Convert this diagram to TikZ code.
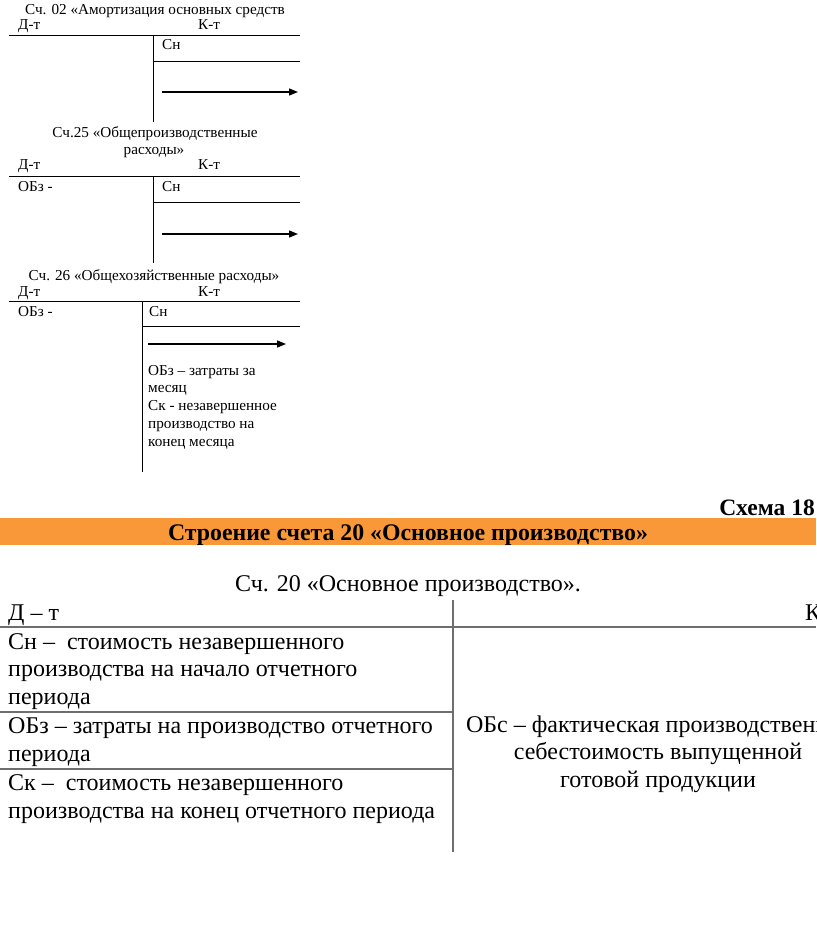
\documentclass[tikz,border=0pt]{standalone}
\usepackage{fontspec}
\setmainfont{Liberation Serif}
\usetikzlibrary{positioning,arrows.meta}
\definecolor{schemeorange}{RGB}{248,152,56}
\definecolor{rulegray}{RGB}{110,110,110}

\begin{document}
\begin{tikzpicture}[x=1pt, y=-1pt, inner sep=0pt,
    every node/.style={font=\fontsize{15.2}{17.7}\selectfont}]
  \tikzset{
    acctitle/.style={anchor=base},
    acclabel/.style={anchor=base west},
    tline/.style={line width=0.9pt},
    flow/.style={line width=1.3pt, -{Triangle[length=9pt, width=7pt]}},
    bigtext/.style={font=\fontsize{24}{27.5}\selectfont, align=left, anchor=base west},
    cellrule/.style={rulegray, line width=1.3pt}
  }
  \useasboundingbox (0,0) rectangle (816,925);
  \clip (0,0) rectangle (816,925);

  % --- ACCOUNT 02 ---
  \node[acctitle] (t02) at (155,15) {Сч. 02 «Амортизация основных средств};
  \node[acclabel] (d02) at (18,30) {Д-т};
  \node[acclabel] (k02) at (198,30) {К-т};
  \node[acclabel] (s02) at (162,50) {Сн};
  \coordinate (h02a) at (9,35);   \coordinate (h02b) at (300,35);
  \coordinate (v02a) at (153,35); \coordinate (v02b) at (153,122);
  \coordinate (m02a) at (153,61); \coordinate (m02b) at (300,61);
  \coordinate (f02a) at (162,92); \coordinate (f02b) at (298,92);
  \draw[tline] (h02a) -- (h02b);
  \draw[tline] (v02a) -- (v02b);
  \draw[tline] (m02a) -- (m02b);
  \draw[flow] (f02a) -- (f02b);

  % --- ACCOUNT 25 ---
  \node[acctitle] (t25a) at (155,138) {Сч.25 «Общепроизводственные};
  \node[acctitle] (t25b) at (154,155) {расходы»};
  \node[acclabel] (d25) at (18,170) {Д-т};
  \node[acclabel] (k25) at (198,170) {К-т};
  \node[acclabel] (o25) at (18,192) {ОБз -};
  \node[acclabel] (s25) at (162,192) {Сн};
  \coordinate (h25a) at (9,176);   \coordinate (h25b) at (300,176);
  \coordinate (v25a) at (153,176); \coordinate (v25b) at (153,263);
  \coordinate (m25a) at (153,202); \coordinate (m25b) at (300,202);
  \coordinate (f25a) at (162,234); \coordinate (f25b) at (298,234);
  \draw[tline] (h25a) -- (h25b);
  \draw[tline] (v25a) -- (v25b);
  \draw[tline] (m25a) -- (m25b);
  \draw[flow] (f25a) -- (f25b);

  % --- ACCOUNT 26 ---
  \node[acctitle] (t26) at (154,280) {Сч. 26 «Общехозяйственные расходы»};
  \node[acclabel] (d26) at (18,296) {Д-т};
  \node[acclabel] (k26) at (198,296) {К-т};
  \node[acclabel] (o26) at (18,316) {ОБз -};
  \node[acclabel] (s26) at (149,316) {Сн};
  \coordinate (h26a) at (9,301);   \coordinate (h26b) at (300,301);
  \coordinate (v26a) at (142,301); \coordinate (v26b) at (142,472);
  \coordinate (m26a) at (142,326); \coordinate (m26b) at (300,326);
  \coordinate (f26a) at (148,344); \coordinate (f26b) at (286,344);
  \draw[tline] (h26a) -- (h26b);
  \draw[tline] (v26a) -- (v26b);
  \draw[tline] (m26a) -- (m26b);
  \draw[flow] (f26a) -- (f26b);
  % base anchor = last line
  \node[acclabel, align=left] (note26) at (148,446)
    {ОБз – затраты за\\месяц\\Ск - незавершенное\\производство на\\конец месяца};

  % --- SCHEME 18: ACCOUNT 20 ---
  \node[anchor=base east, font=\bfseries\fontsize{23.5}{26}\selectfont] (schemeno) at (815,515) {Схема 18};
  \node[anchor=north west, fill=schemeorange, minimum width=816pt, minimum height=27pt] (bar) at (0,518) {};
  \node[anchor=base, font=\bfseries\fontsize{23.8}{26}\selectfont] (bartitle) at (408,540)
    {Строение счета 20 «Основное производство»};
  \node[anchor=base, font=\fontsize{24}{27.5}\selectfont] (t20) at (408,591) {Сч. 20 «Основное производство».};
  \node[bigtext] (d20) at (8,620) {Д – т};
  \node[bigtext] (k20) at (805,620) {К – т};
  \coordinate (h20a) at (0,627);   \coordinate (h20b) at (816,627);
  \coordinate (v20a) at (453,600); \coordinate (v20b) at (453,852);
  \coordinate (r1a) at (0,712);    \coordinate (r1b) at (453,712);
  \coordinate (r2a) at (0,769);    \coordinate (r2b) at (453,769);
  \draw[cellrule] (h20a) -- (h20b);
  \draw[cellrule] (v20a) -- (v20b);
  \draw[cellrule] (r1a) -- (r1b);
  \draw[cellrule] (r2a) -- (r2b);
  \node[bigtext] (sn20) at (8,704) {Сн –\ \ стоимость незавершенного\\производства на начало отчетного\\периода};
  \node[bigtext] (obz20) at (8,761) {ОБз – затраты на производство отчетного\\периода};
  \node[bigtext] (sk20) at (8,818) {Ск –\ \ стоимость незавершенного\\производства на конец отчетного периода};
  \node[bigtext, align=center, anchor=base] (obs20) at (658,787)
    {ОБс – фактическая производственная\\себестоимость выпущенной\\готовой продукции};
\end{tikzpicture}
\end{document}
